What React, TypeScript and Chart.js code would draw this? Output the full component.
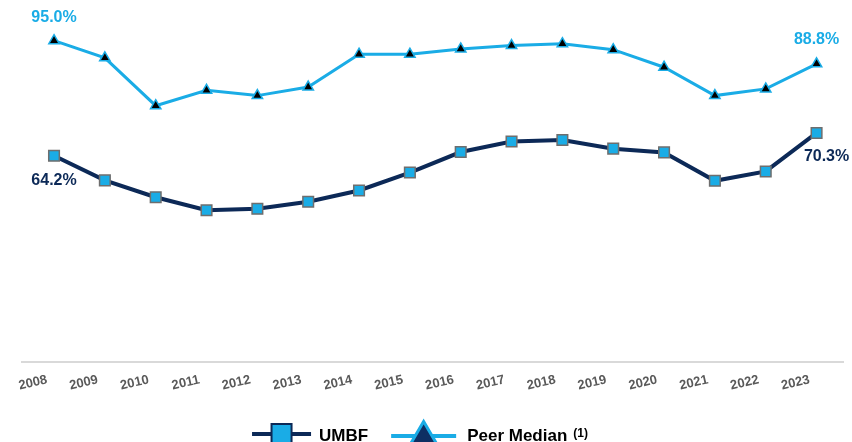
import React, { useEffect, useRef } from "react";
import { Chart, registerables } from "chart.js";

Chart.register(...registerables);

const years = ["2008", "2009", "2010", "2011", "2012", "2013", "2014", "2015", "2016", "2017", "2018", "2019", "2020", "2021", "2022", "2023"];
const umbfValues = [64.2, 57.6, 53.1, 49.6, 50.0, 51.9, 54.9, 59.7, 65.2, 68.0, 68.4, 66.1, 65.1, 57.5, 60.0, 70.3];
const peerValues = [95.0, 90.4, 77.6, 81.7, 80.3, 82.6, 91.4, 91.4, 92.8, 93.7, 94.2, 92.6, 87.9, 80.3, 82.1, 88.8];
const seriesNames = ["UMBF", "Peer Median"];
const peerNote = "(1)";

const NAVY = "#0C2957";
const SKY = "#1AACE6";
const FONT = "'Liberation Sans', Arial, sans-serif";

// Value labels on the first and last point of each line
const endLabels = {
  id: "endLabels",
  afterDatasetsDraw(chart: Chart) {
    const ctx = chart.ctx;
    ctx.save();
    ctx.font = `bold 16px ${FONT}`;
    ctx.textAlign = "center";
    ctx.textBaseline = "middle";
    const specs = [
      { ds: 0, color: NAVY, first: { dx: 0, dy: 25 }, last: { dx: 10, dy: 24 } },
      { ds: 1, color: SKY, first: { dx: 0, dy: -23 }, last: { dx: 0, dy: -24 } },
    ];
    specs.forEach((s) => {
      const meta = chart.getDatasetMeta(s.ds);
      const values = chart.data.datasets[s.ds].data as { x: number; y: number }[];
      const n = meta.data.length;
      ctx.fillStyle = s.color;
      [
        { i: 0, off: s.first },
        { i: n - 1, off: s.last },
      ].forEach(({ i, off }) => {
        const p = meta.data[i];
        ctx.fillText(`${values[i].y.toFixed(1)}%`, p.x + off.dx, p.y + off.dy);
      });
    });
    ctx.restore();
  },
};

// Legend with line + marker samples and a superscript note
const lineLegend = {
  id: "lineLegend",
  afterDraw(chart: Chart) {
    const ctx = chart.ctx;
    ctx.save();
    const cy = 434;
    const baseline = 441;
    ctx.font = `bold 17px ${FONT}`;
    const w1 = ctx.measureText(seriesNames[0]).width;
    const w2 = ctx.measureText(seriesNames[1]).width;
    ctx.font = `bold 12px ${FONT}`;
    const w3 = ctx.measureText(peerNote).width;
    const s1 = 59, g1 = 8, gap = 23, s2 = 65, g2 = 11, g3 = 6;
    const total = s1 + g1 + w1 + gap + s2 + g2 + w2 + g3 + w3;
    let x = chart.width / 2 - 6 - total / 2;

    // UMBF sample
    ctx.strokeStyle = NAVY;
    ctx.lineWidth = 4;
    ctx.beginPath();
    ctx.moveTo(x, cy);
    ctx.lineTo(x + s1, cy);
    ctx.stroke();
    ctx.fillStyle = SKY;
    ctx.lineWidth = 2;
    ctx.fillRect(x + s1 / 2 - 10, cy - 10, 20, 20);
    ctx.strokeRect(x + s1 / 2 - 10, cy - 10, 20, 20);
    x += s1 + g1;
    ctx.fillStyle = "#000";
    ctx.font = `bold 17px ${FONT}`;
    ctx.textAlign = "left";
    ctx.textBaseline = "alphabetic";
    ctx.fillText(seriesNames[0], x, baseline);
    x += w1 + gap;

    // Peer sample
    const py = 436;
    ctx.strokeStyle = SKY;
    ctx.lineWidth = 4;
    ctx.beginPath();
    ctx.moveTo(x, py);
    ctx.lineTo(x + s2, py);
    ctx.stroke();
    const tx = x + s2 / 2;
    ctx.beginPath();
    ctx.moveTo(tx, 421.5);
    ctx.lineTo(tx + 19, 454);
    ctx.lineTo(tx - 19, 454);
    ctx.closePath();
    ctx.fillStyle = "#0E2F63";
    ctx.fill();
    ctx.strokeStyle = SKY;
    ctx.lineWidth = 3;
    ctx.stroke();
    x += s2 + g2;
    ctx.fillStyle = "#000";
    ctx.font = `bold 17px ${FONT}`;
    ctx.fillText(seriesNames[1], x, baseline);
    x += w2 + g3;
    ctx.font = `bold 12px ${FONT}`;
    ctx.fillText(peerNote, x, baseline - 4);
    ctx.restore();
  },
};

export default function App() {
  const canvasRef = useRef<HTMLCanvasElement | null>(null);

  useEffect(() => {
    if (!canvasRef.current) return;
    const chart = new Chart(canvasRef.current, {
      type: "line",
      data: {
        datasets: [
          {
            label: seriesNames[0],
            data: umbfValues.map((v, i) => ({ x: i, y: v })),
            borderColor: NAVY,
            borderWidth: 4,
            pointStyle: "rect",
            pointRadius: 7.5,
            pointBackgroundColor: SKY,
            pointBorderColor: "#6E6E6E",
            pointBorderWidth: 1.5,
            tension: 0,
            clip: false,
          },
          {
            label: seriesNames[1],
            data: peerValues.map((v, i) => ({ x: i, y: v })),
            borderColor: SKY,
            borderWidth: 3,
            pointStyle: "triangle",
            pointRadius: 6,
            pointBackgroundColor: "#000000",
            pointBorderColor: SKY,
            pointBorderWidth: 1.5,
            tension: 0,
            clip: false,
          },
        ],
      },
      options: {
        animation: false,
        responsive: false,
        devicePixelRatio: 1,
        layout: { padding: { left: 22, right: 9, top: 22, bottom: 0 } },
        plugins: {
          legend: { display: false },
          tooltip: { enabled: false },
        },
        scales: {
          x: {
            type: "linear",
            min: -0.63,
            max: 15.52,
            grid: { display: false, drawTicks: false },
            border: { display: true, color: "#D9D9D9", width: 2 },
            afterBuildTicks: (scale: any) => {
              scale.ticks = years.map((_, i) => ({ value: i }));
            },
            afterFit: (scale: any) => {
              scale.height = 98;
            },
            ticks: {
              autoSkip: false,
              minRotation: 13,
              maxRotation: 13,
              padding: 10,
              labelOffset: -7,
              color: "#595959",
              font: { family: FONT, size: 13, weight: "bold" },
              callback: (value: any) => years[value as number] ?? "",
            },
          },
          y: {
            display: false,
            min: 9,
            max: 100,
          },
        },
      },
      plugins: [endLabels, lineLegend],
    });
    return () => chart.destroy();
  }, []);

  return (
    <div style={{ position: "fixed", left: 0, top: 0, width: 852, height: 442, overflow: "hidden", background: "#fff" }}>
      <canvas ref={canvasRef} width={852} height={460} style={{ display: "block" }} />
    </div>
  );
}
